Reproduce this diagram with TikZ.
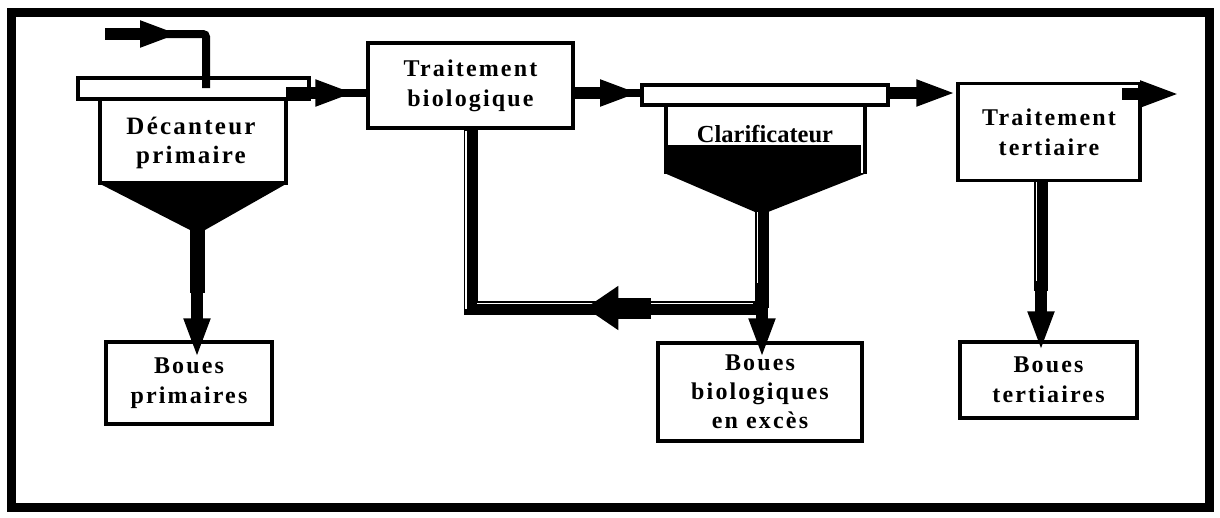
\documentclass[tikz,border=0pt]{standalone}
\usepackage{fontspec}
\setmainfont{Liberation Serif}
\newfontfamily\espace[LetterSpace=9]{Liberation Serif}
\usepackage{tikz}
\usetikzlibrary{arrows.meta, positioning, calc}

\begin{document}
\begin{tikzpicture}[x=1pt, y=-1pt,
    boite/.style={draw, line width=3.5pt, align=center, inner sep=0pt,
        font=\espace\bfseries\fontsize{24}{30}\selectfont},
    texte/.style={align=center, inner sep=0pt,
        font=\espace\bfseries\fontsize{25}{29}\selectfont},
    paroi/.style={line width=3.5pt},
    conduite/.style={line width=8pt},
    flux/.style={line width=12pt, -{Triangle[length=40pt,width=24pt]}},
    tuyau/.style={line width=14pt},
    reflet/.style={white, line width=1.5pt}]
    \useasboundingbox (0,0) rectangle (1220,517);

    % Frame
    \draw[line width=9pt] (11.5,12.5) rectangle (1209.5,507);

    % Boxes
    \node[boite, minimum width=205pt, minimum height=85pt] (bio) at (470.5,85.5) {Traitement\\biologique};
    \node[boite, minimum width=182pt, minimum height=97pt] (tert) at (1049,132) {Traitement\\tertiaire};
    \node[boite, minimum width=166pt, minimum height=82pt] (prim) at (189,383) {Boues\\primaires};
    \node[boite, minimum width=204pt, minimum height=98pt, font=\espace\bfseries\fontsize{24}{29}\selectfont] (bbio) at (760,392) {Boues\\biologiques\\en excès};
    \node[boite, minimum width=177pt, minimum height=76pt] (btert) at (1048.5,380) {Boues\\tertiaires};

    % Primary settler
    \draw[paroi] (100,99) rectangle (286,183);
    \fill (98.25,183) -- (287.75,183) -- (205,230) -- (190,230) -- cycle;
    \draw[paroi] (78,78) rectangle (309,99);
    \node[texte] (dectxt) at (191,143) {Décanteur\\primaire};
    \coordinate (entree) at (105,34);
    \coordinate (decarrivee) at (206,88);
    \coordinate (decsortie) at (286,93);
    \coordinate (decfond) at (197,229);

    % Clarifier
    \fill (666,145) rectangle (861,173);
    \fill (664.25,173) -- (866.75,173) -- (768,212) -- (755,212) -- cycle;
    \draw[paroi] (666,104) -- (666,174) (865,104) -- (865,174);
    \draw[paroi] (642,85) rectangle (888,105);
    \node[font=\bfseries\fontsize{24.5}{26}\selectfont, inner sep=0pt, anchor=base] (clartxt) at (765,142) {Clarificateur};
    \coordinate (clarentree) at (642,93);
    \coordinate (clarsortie) at (888,93);
    \coordinate (clarfond) at (762,211);
    \coordinate (tertfond) at (1041,181);
    \coordinate (sortie) at (1180,94);

    % Inlet
    \draw[conduite, rounded corners=3pt] (entree) -- (entree -| decarrivee) -- (decarrivee);
    \draw[flux] (entree) -- ++(75,0);

    % Main line
    \draw[conduite] (decsortie) -- (decsortie -| bio.west);
    \draw[flux, shorten >=11pt] (decsortie) -- (decsortie -| bio.west);
    \draw[conduite] (bio.east |- clarentree) -- (clarentree);
    \draw[flux, shorten >=2pt] (bio.east |- clarentree) -- (clarentree);
    \draw[flux] (clarsortie) -- (clarsortie -| tert.west);
    \draw[flux] ($(tert.east |- sortie)+(-20,0)$) -- (sortie);

    % Sludge from primary settler
    \draw[line width=15pt] (decfond) -- ++(0,64);
    \draw[flux, shorten >=-18pt] (decfond) -- (decfond |- prim.north);

    % Recirculation
    \coordinate (retour) at (762,308);
    \draw[tuyau] (retour) -- (retour -| bio.south) -- (bio.south);
    \draw[reflet] ($(bio.south)+(-4.5,1)$) -- ($(retour -| bio.south)+(-4.5,1)$);
    \draw[reflet] ($(retour -| bio.south)+(6.5,-4.5)$) -- ($(retour)+(-9,-4.5)$);
    \draw[flux, line width=21pt, -{Triangle[length=33pt,width=42pt]}]
        ($(retour)!0.38!(retour -| bio.south)$) -- ($(retour)!0.606!(retour -| bio.south)$);

    % Sludge from clarifier
    \draw[tuyau] (clarfond) -- (retour);
    \draw[reflet] ($(clarfond)+(-4.5,1)$) -- ++(0,78);
    \draw[flux, shorten >=-17pt] ($(clarfond)+(0,72)$) -- (clarfond |- bbio.north);

    % Tertiary sludge
    \draw[tuyau] (tertfond) -- ++(0,110);
    \draw[reflet] ($(tertfond)+(-4.5,1)$) -- ++(0,108);
    \draw[flux, shorten >=-11pt] ($(tertfond)+(0,100)$) -- (tertfond |- btert.north);
\end{tikzpicture}
\end{document}
